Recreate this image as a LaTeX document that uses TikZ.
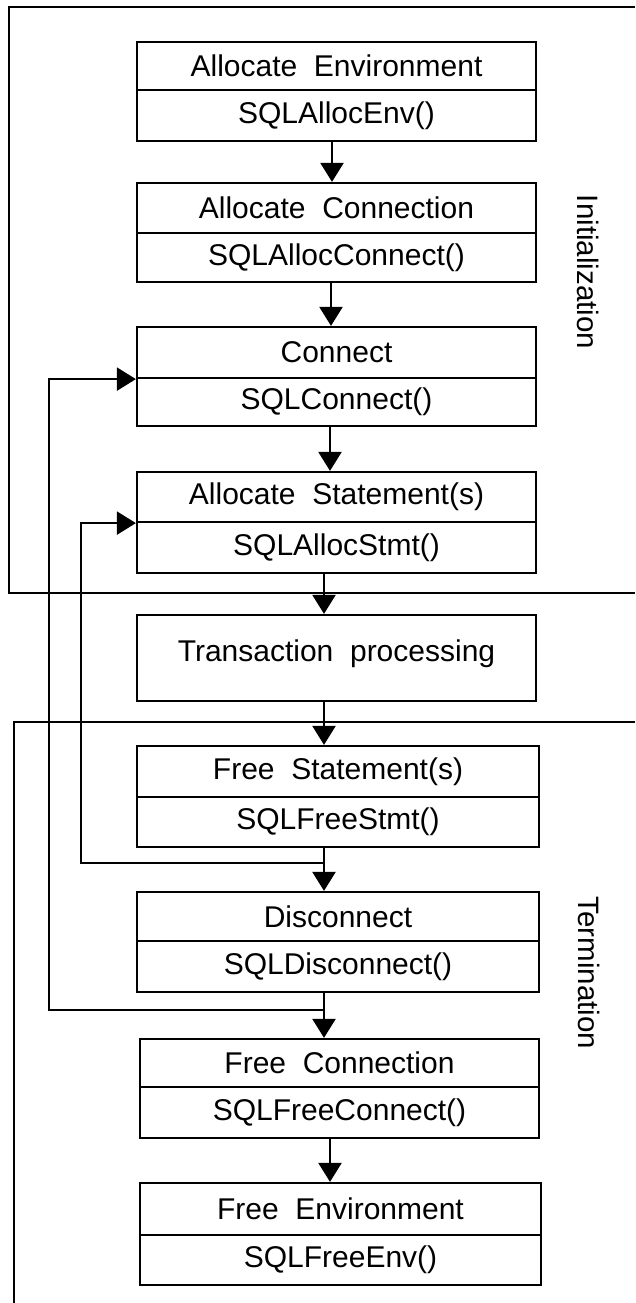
\documentclass[tikz,border=0pt]{standalone}
\usepackage{fontspec}
\setmainfont{Liberation Sans}
\usetikzlibrary{arrows.meta}
\begin{document}
\begin{tikzpicture}[x=1pt,y=-1pt,
  line width=2pt,
  part/.style={draw, rectangle, inner sep=0pt, line width=2.2pt,
    font=\fontsize{30}{35}\selectfont},
  arr/.style={-{Triangle[length=19pt,width=23pt]}, line width=2.2pt},
  frame/.style={line width=2.2pt},
  side/.style={rotate=-90, inner sep=0pt, font=\fontsize{29.5}{34}\selectfont}]
\useasboundingbox[fill=white] (0,0) rectangle (635,1303);
% Box 1
\node[part, minimum width=399pt, minimum height=48pt] (envT) at (336.5,66) {Allocate~ Environment};
\node[part, minimum width=399pt, minimum height=51pt] (envB) at (336.5,115.5) {SQLAllocEnv()};
% Box 2
\node[part, minimum width=399pt, minimum height=50pt] (conT) at (336.5,208) {Allocate~ Connection};
\node[part, minimum width=399pt, minimum height=49pt] (conB) at (336.5,257.5) {SQLAllocConnect()};
% Box 3
\node[part, minimum width=399pt, minimum height=51pt] (cnT) at (336.5,352.5) {Connect};
\node[part, minimum width=399pt, minimum height=48pt] (cnB) at (336.5,402) {SQLConnect()};
% Box 4
\node[part, minimum width=399pt, minimum height=50pt] (stT) at (336.5,497) {Allocate~ Statement(s)};
\node[part, minimum width=399pt, minimum height=51pt] (stB) at (336.5,547.5) {SQLAllocStmt()};
% Box 5
\node[part, minimum width=399pt, minimum height=86pt, text depth=14pt] (tp) at (336.5,658) {Transaction~ processing};
% Box 6
\node[part, minimum width=402pt, minimum height=51pt] (fsT) at (338,771.5) {Free~ Statement(s)};
\node[part, minimum width=402pt, minimum height=50pt] (fsB) at (338,822) {SQLFreeStmt()};
% Box 7
\node[part, minimum width=402pt, minimum height=49pt] (dcT) at (338,916.5) {Disconnect};
\node[part, minimum width=402pt, minimum height=51pt] (dcB) at (338,966.5) {SQLDisconnect()};
% Box 8
\node[part, minimum width=399pt, minimum height=48pt] (fcT) at (339.5,1063) {Free~ Connection};
\node[part, minimum width=399pt, minimum height=51pt] (fcB) at (339.5,1112.5) {SQLFreeConnect()};
% Box 9
\node[part, minimum width=401pt, minimum height=52pt] (feT) at (340.5,1209) {Free~ Environment};
\node[part, minimum width=401pt, minimum height=50pt] (feB) at (340.5,1260) {SQLFreeEnv()};
% frames
\draw[frame] (635,7) -- (9,7) -- (9,593) -- (635,593);
\draw[frame] (635,722) -- (14,722) -- (14,1303);
% side labels
\node[side] (init) at (588,272) {Initialization};
\node[side] (term) at (589,973) {Termination};
% main flow arrows
\draw[arr] ([xshift=-4.5pt]envB.south) -- ([xshift=-4.5pt]conT.north);
\draw[arr] ([xshift=-5.5pt]conB.south) -- ([xshift=-5.5pt]cnT.north);
\draw[arr] ([xshift=-6.5pt]cnB.south) -- ([xshift=-6.5pt]stT.north);
\draw[arr] ([xshift=-12.5pt]stB.south) -- ([xshift=-12.5pt]tp.north);
\draw[arr] ([xshift=-12.5pt]tp.south) -- ([xshift=-14pt]fsT.north);
\draw[arr] ([xshift=-14pt]fsB.south) -- ([xshift=-14pt]dcT.north);
\draw[arr] ([xshift=-14pt]dcB.south) -- ([xshift=-15.5pt]fcT.north);
\draw[arr] ([xshift=-9.5pt]fcB.south) -- ([xshift=-10.5pt]feT.north);
% feedback loops
\coordinate (j1) at (324,1010);
\coordinate (k1) at (49,1010);
\coordinate (j2) at (324,863);
\coordinate (k2) at (81,863);
\draw[arr] (j1) -- (k1) |- (cnT.south west);
\draw[arr] (j2) -- (k2) |- (stT.south west);
\end{tikzpicture}
\end{document}
